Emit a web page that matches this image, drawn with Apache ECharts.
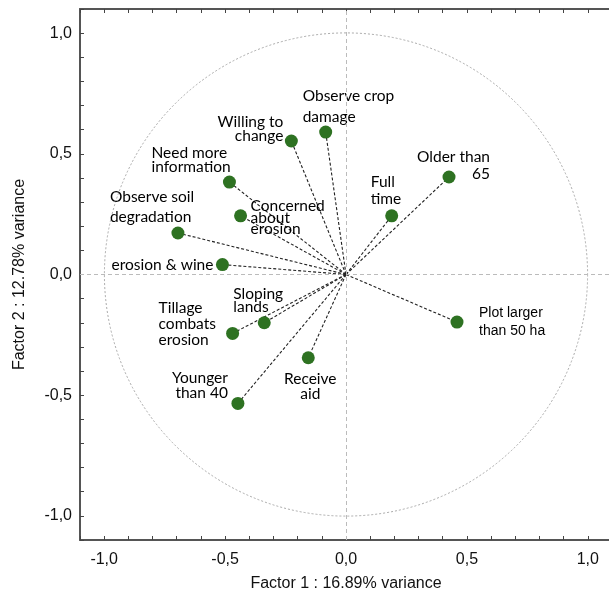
<!DOCTYPE html>
<html>
<head>
<meta charset="utf-8">
<script src="https://cdn.jsdelivr.net/npm/echarts@6/dist/echarts.min.js"></script>
<style>html,body{margin:0;padding:0;background:#fff;overflow:hidden}#c{width:609px;height:601px}</style>
</head>
<body>
<div id="c"></div>
<script>
// ---- data ----
const names = [
  'Observe crop\ndamage', 'Willing to\nchange', 'Need more\ninformation', 'Concerned\nabout\nerosion',
  'Observe soil\ndegradation', 'erosion & wine', 'Older than\n65', 'Full\ntime',
  'Plot larger\nthan 50 ha', 'Sloping\nlands', 'Tillage\ncombats\nerosion', 'Receive\naid', 'Younger\nthan 40'
];
const factor1 = [-0.084, -0.226, -0.482, -0.436, -0.695, -0.511, 0.426, 0.189, 0.459, -0.338, -0.469, -0.156, -0.447];
const factor2 = [0.590, 0.553, 0.383, 0.243, 0.172, 0.041, 0.404, 0.243, -0.197, -0.200, -0.244, -0.345, -0.534];
const tickValues = [-1.0, -0.5, 0.0, 0.5, 1.0];

// ---- label styling (layout only) ----
const labelLayout = [
  {align: 'left',   dx: -23, dy: -26,   lh: 21},
  {align: 'right',  dx: -8,  dy: -12,   lh: 14},
  {align: 'left',   dx: -78, dy: -22,   lh: 14},
  {align: 'left',   dx: 10,  dy: 2,     lh: 11.5},
  {align: 'left',   dx: -68, dy: -26,   lh: 20},
  {align: 'right',  dx: -9,  dy: 0,     lh: 16},
  {align: 'right',  dx: 41,  dy: -11.5, lh: 17},
  {align: 'left',   dx: -21, dy: -25,   lh: 17},
  {align: 'left',   dx: 22,  dy: 0,     lh: 18, arial: true},
  {align: 'left',   dx: -31, dy: -22.5, lh: 13},
  {align: 'left',   dx: -74, dy: -9,    lh: 16},
  {align: 'center', dx: 2,   dy: 28.5,  lh: 15},
  {align: 'right',  dx: -10, dy: -18,   lh: 15}
];

const fmt = v => {
  const r = Math.round(v * 10);
  for (const t of tickValues) if (Math.round(t * 10) === r) return t.toFixed(1).replace('.', ',');
  return '';
};

const scatterData = names.map((n, i) => {
  const L = labelLayout[i];
  return {
    name: n,
    value: [factor1[i], factor2[i]],
    label: {
      show: true, position: 'inside', formatter: n,
      align: L.align, verticalAlign: 'middle', offset: [L.dx, L.dy],
      lineHeight: L.lh,
      fontFamily: L.arial ? 'Liberation Sans' : 'Lato',
      fontSize: L.arial ? 14 : 15.5,
      color: '#000'
    }
  };
});
const vectorData = names.map((n, i) => ({coords: [[0, 0], [factor1[i], factor2[i]]]}));

const axisCommon = {
  type: 'value', min: -1.1, max: 1.1, interval: 0.1,
  splitLine: {show: false},
  axisLine: {show: true, onZero: false, lineStyle: {color: '#555', width: 2}},
  axisTick: {show: true, inside: true, length: 4, lineStyle: {color: '#444', width: 1}},
  axisLabel: {formatter: fmt, fontFamily: 'Liberation Sans', fontSize: 16, color: '#111', showMinLabel: true, showMaxLabel: true},
  nameTextStyle: {fontFamily: 'Liberation Sans', fontSize: 16, color: '#111'}
};

const chart = echarts.init(document.getElementById('c'), null, {renderer: 'canvas'});
chart.setOption({
  animation: false,
  backgroundColor: '#fff',
  grid: {left: 80, top: 9, width: 532, height: 531, containLabel: false, outerBoundsMode: 'none'},
  xAxis: [
    Object.assign({}, axisCommon, {position: 'bottom', name: 'Factor 1 : 16.89% variance', nameLocation: 'middle', nameGap: 36,
      axisLabel: Object.assign({}, axisCommon.axisLabel, {margin: 12})}),
    Object.assign({}, axisCommon, {position: 'top', axisLabel: {show: false}})
  ],
  yAxis: [
    Object.assign({}, axisCommon, {position: 'left', name: 'Factor 2 : 12.78% variance', nameLocation: 'middle', nameGap: 52,
      axisLabel: Object.assign({}, axisCommon.axisLabel, {margin: 8})})
  ],
  series: [
    {
      type: 'custom', z: 1, silent: true, clip: false,
      data: [[0, 0]],
      renderItem: (params, api) => {
        const c = api.coord([0, 0]);
        const s = api.size([1, 1]);
        return {type: 'circle', shape: {cx: c[0], cy: c[1], r: (s[0] + s[1]) / 2},
          style: {fill: null, stroke: '#aaa', lineWidth: 1, lineDash: [2, 2]}};
      }
    },
    {
      type: 'scatter', data: [], z: 1,
      markLine: {
        silent: true, symbol: 'none', label: {show: false},
        lineStyle: {color: '#bbb', type: [4, 3], width: 1},
        data: [{xAxis: 0}, {yAxis: 0}]
      }
    },
    {
      type: 'lines', coordinateSystem: 'cartesian2d', z: 2, silent: true,
      lineStyle: {color: '#222', width: 1.1, type: [3, 2], opacity: 1},
      data: vectorData
    },
    {
      type: 'scatter', z: 3, symbolSize: 13,
      itemStyle: {color: '#2e7222', opacity: 1},
      data: scatterData
    }
  ]
});
</script>
</body>
</html>
